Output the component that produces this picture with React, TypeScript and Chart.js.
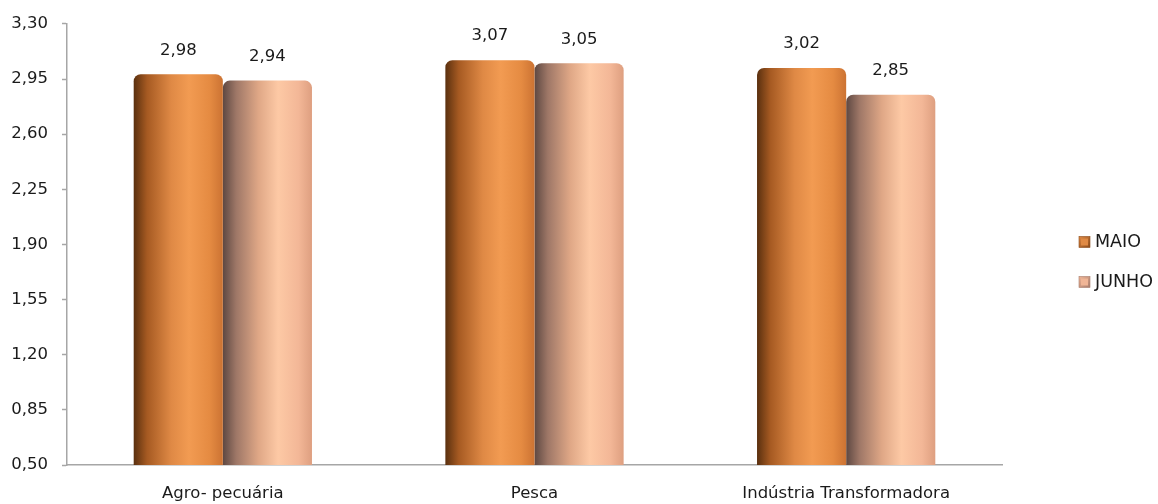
import React, { useEffect, useRef } from "react";
import { Chart, registerables } from "chart.js";

Chart.register(...registerables);

const categories = ["Agro- pecuária", "Pesca", "Indústria Transformadora"];
const seriesNames = ["MAIO", "JUNHO"];
const maioValues = [2.98, 3.07, 3.02];
const junhoValues = [2.94, 3.05, 2.85];
const yTicks = [0.5, 0.85, 1.2, 1.55, 1.9, 2.25, 2.6, 2.95, 3.3];

const FONT = "'DejaVu Sans', sans-serif";
const TEXT = "#1a1a1a";
const FS = 16.5;

const STOPS: [number, string][][] = [
  [
    [0, "#5a300f"],
    [0.15, "#a65a22"],
    [0.42, "#df8945"],
    [0.62, "#f29b52"],
    [0.85, "#e58b42"],
    [1, "#cc7333"],
  ],
  [
    [0, "#5e4842"],
    [0.15, "#9e7767"],
    [0.4, "#dfa786"],
    [0.62, "#fdc9a5"],
    [0.85, "#f3b797"],
    [1, "#de9f80"],
  ],
];

const LEGEND_FILL = ["#e08a45", "#f0b596"];
const LEGEND_EDGE = ["#8a4a1a", "#a77c6c"];

function makeGradient(c: CanvasRenderingContext2D, x0: number, x1: number, di: number) {
  const g = c.createLinearGradient(x0, 0, x1, 0);
  for (const [o, col] of STOPS[di]) g.addColorStop(o, col);
  return g;
}

const fmt = (v: number) => v.toFixed(2).replace(".", ",");

export default function App() {
  const ref = useRef<HTMLCanvasElement | null>(null);

  useEffect(() => {
    const canvas = ref.current;
    if (!canvas) return;

    const CAT_PCT = 0.572;

    const bg = (ctx: any) => {
      const chart = ctx.chart;
      const area = chart.chartArea;
      const xs = chart.scales?.x;
      if (!area || !xs || ctx.type !== "data") return STOPS[ctx.datasetIndex][3][1];
      const catW = (area.right - area.left) / categories.length;
      const barW = (catW * CAT_PCT) / 2;
      const center = xs.getPixelForValue(ctx.dataIndex);
      const left = center - barW + ctx.datasetIndex * barW;
      return makeGradient(chart.ctx, left, left + barW, ctx.datasetIndex);
    };

    const labelsPlugin = {
      id: "valueLabels",
      afterDatasetsDraw(chart: any) {
        const c = chart.ctx;
        c.save();
        c.font = `${FS}px ${FONT}`;
        c.fillStyle = TEXT;
        c.textAlign = "center";
        c.textBaseline = "middle";
        chart.data.datasets.forEach((ds: any, di: number) => {
          const meta = chart.getDatasetMeta(di);
          meta.data.forEach((el: any, i: number) => {
            c.fillText(fmt(ds.data[i]), el.x, el.y - 24);
          });
        });
        c.restore();
      },
    };

    const legendPlugin = {
      id: "sideLegend",
      afterDraw(chart: any) {
        const c = chart.ctx;
        c.save();
        c.font = `17.5px ${FONT}`;
        c.textAlign = "left";
        c.textBaseline = "middle";
        seriesNames.forEach((name, i) => {
          const cy = 242 + i * 40;
          const bx = 1079;
          const g = c.createLinearGradient(bx, cy - 5.5, bx + 11, cy + 5.5);
          g.addColorStop(0, LEGEND_FILL[i]);
          g.addColorStop(1, LEGEND_EDGE[i]);
          c.fillStyle = g;
          c.fillRect(bx, cy - 5.5, 11, 11);
          c.fillStyle = LEGEND_FILL[i];
          c.fillRect(bx + 2, cy - 3.5, 7, 7);
          c.strokeStyle = LEGEND_EDGE[i];
          c.lineWidth = 0.6;
          c.strokeRect(bx, cy - 5.5, 11, 11);
          c.fillStyle = TEXT;
          c.fillText(name, bx + 16, cy);
        });
        c.restore();
      },
    };

    const chart = new Chart(canvas, {
      type: "bar",
      data: {
        labels: categories,
        datasets: [
          {
            label: seriesNames[0],
            data: maioValues,
            backgroundColor: bg,
            borderRadius: { topLeft: 7, topRight: 7, bottomLeft: 0, bottomRight: 0 },
            borderSkipped: false,
            categoryPercentage: CAT_PCT,
            barPercentage: 1,
          },
          {
            label: seriesNames[1],
            data: junhoValues,
            backgroundColor: bg,
            borderRadius: { topLeft: 7, topRight: 7, bottomLeft: 0, bottomRight: 0 },
            borderSkipped: false,
            categoryPercentage: CAT_PCT,
            barPercentage: 1,
          },
        ],
      },
      options: {
        animation: false,
        responsive: false,
        maintainAspectRatio: false,
        devicePixelRatio: 1,
        layout: { padding: { left: 0, right: 156, top: 22, bottom: 0 } },
        plugins: {
          legend: { display: false },
          tooltip: { enabled: false },
        },
        scales: {
          x: {
            grid: { display: false, drawTicks: false },
            border: { display: true, color: "#a6a6a6", width: 1.5 },
            ticks: {
              font: { family: FONT, size: FS },
              color: TEXT,
              padding: 19,
            },
            afterFit: (s: any) => {
              s.height = 39;
            },
          },
          y: {
            min: 0.5,
            max: 3.3,
            grid: {
              drawOnChartArea: false,
              drawTicks: true,
              tickLength: 5,
              tickColor: "#a6a6a6",
              tickWidth: 1.5,
            },
            border: { display: true, color: "#a6a6a6", width: 1.5 },
            ticks: {
              font: { family: FONT, size: FS },
              color: TEXT,
              padding: 14,
              callback: (v: any) => fmt(Number(v)),
            },
            afterBuildTicks: (s: any) => {
              s.ticks = yTicks.map((v) => ({ value: v }));
            },
            afterFit: (s: any) => {
              s.width = 67;
            },
          },
        },
      },
      plugins: [labelsPlugin, legendPlugin],
    });

    return () => chart.destroy();
  }, []);

  return (
    <div style={{ position: "fixed", left: 0, top: 0, width: 1158, height: 504, background: "#fff" }}>
      <canvas ref={ref} width={1158} height={504} style={{ width: 1158, height: 504, display: "block" }} />
    </div>
  );
}
